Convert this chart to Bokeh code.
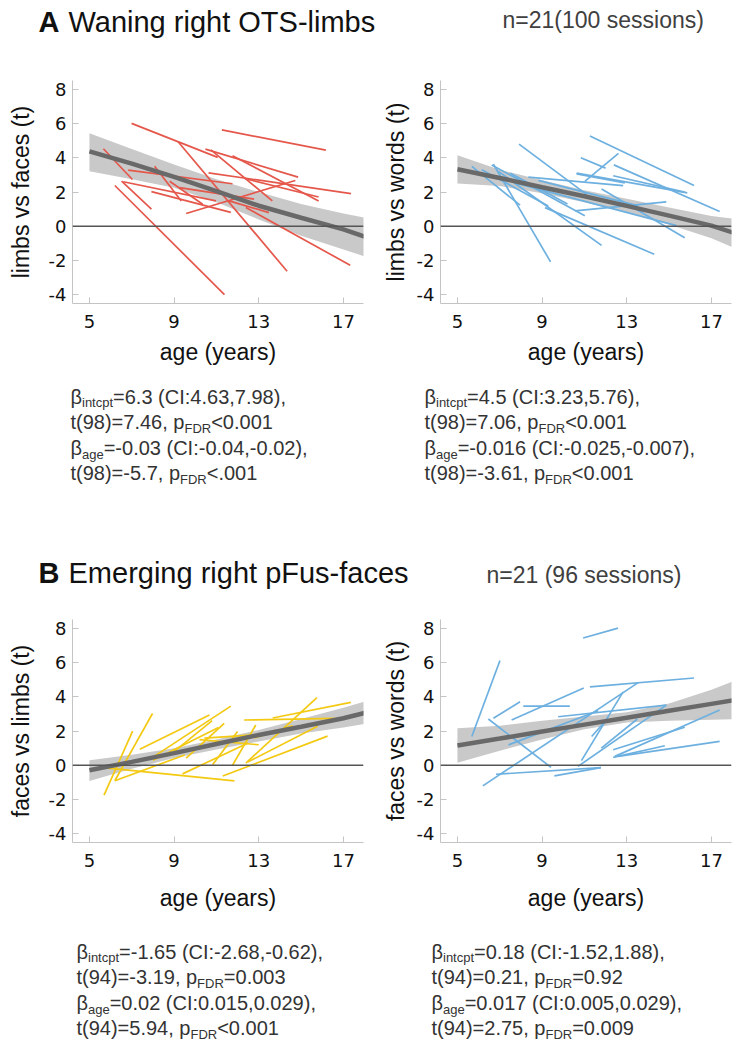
from bokeh.plotting import figure
from bokeh.models import Span, FixedTicker, Range1d
from bokeh.layouts import column, row
from bokeh.embed import file_html
from bokeh.resources import INLINE
from bokeh.core.properties import value

# ---------------- data ----------------
AGE_TICKS = [5, 9, 13, 17]
T_TICKS = [-4, -2, 0, 2, 4, 6, 8]

# Panel A left: limbs vs faces (right OTS-limbs)
a1_x0 = [6.99, 9.18, 11.26, 5.66, 6.20, 6.52, 6.83, 8.08, 10.48, 10.74, 11.76, 10.63, 12.34, 9.57, 7.93, 12.39, 6.60, 9.26, 11.60, 8.79]
a1_y0 = [6.00, 4.94, 5.62, 4.52, 2.38, 2.63, 3.27, 3.50, 4.50, 4.46, 4.12, 3.12, 2.79, 0.75, 2.02, 1.10, 2.60, 2.25, 1.48, 2.63]
a1_x1 = [11.06, 14.34, 16.17, 7.03, 11.38, 7.93, 11.76, 9.34, 14.86, 13.64, 15.83, 17.36, 15.83, 14.73, 11.68, 17.32, 10.98, 12.78, 13.48, 10.35]
a1_y1 = [4.02, -2.62, 4.44, 2.73, -3.98, 1.00, 2.48, 1.48, 2.87, 1.48, 1.48, 1.90, 1.71, 2.67, 0.81, -2.27, 1.48, 1.58, 0.80, 1.29]
a1_fit_age = [5, 7, 9, 11, 13, 15, 17, 18]
a1_fit = [4.37, 3.65, 2.88, 2.05, 1.20, 0.50, -0.18, -0.60]
a1_lo = [3.21, 2.75, 2.25, 1.40, 0.40, -0.55, -1.35, -1.75]
a1_hi = [5.42, 4.50, 3.60, 2.75, 2.00, 1.30, 0.75, 0.50]

# Panel A right: limbs vs words
a2_x0 = [7.91, 11.26, 10.83, 11.02, 12.39, 10.63, 12.36, 6.70, 5.68, 6.62, 8.35, 10.63, 11.81, 6.93, 9.14, 7.72, 10.55, 6.15, 8.82, 7.50]
a2_y0 = [4.79, 5.27, 4.00, 2.62, 3.58, 3.10, 2.95, 3.62, 3.49, 3.58, 2.87, 3.06, 2.18, 3.20, 1.09, 2.53, 0.90, 3.30, 2.68, 3.10]
a2_x1 = [11.10, 16.18, 12.00, 12.61, 17.39, 15.86, 15.74, 9.40, 7.96, 11.02, 12.83, 12.91, 15.74, 11.81, 14.30, 15.35, 14.87, 9.29, 13.54, 10.20]
a2_y1 = [1.86, 2.38, 3.39, 4.25, 0.86, 1.95, 1.99, -2.07, 1.23, 0.61, 2.37, 2.53, -0.67, -1.11, -1.63, 0.04, 1.42, 1.19, 1.19, 1.30]
a2_fit_age = [5, 7, 9, 11, 13, 15, 17, 18]
a2_fit = [3.33, 2.82, 2.28, 1.75, 1.19, 0.62, 0.04, -0.36]
a2_lo = [2.49, 2.35, 1.92, 1.40, 0.80, 0.10, -0.70, -1.22]
a2_hi = [4.14, 3.30, 2.68, 2.10, 1.61, 1.10, 0.60, 0.45]

# Panel B left: faces vs limbs (right pFus-faces)
b1_x0 = [5.69, 6.20, 7.38, 7.93, 9.57, 10.43, 10.82, 11.76, 12.31, 12.39, 11.30, 13.66, 5.66, 6.20, 8.00, 9.00, 9.40, 10.20, 12.80, 12.48]
b1_y0 = [-1.74, -0.90, 0.94, 0.42, 0.42, 1.58, 0.04, 0.00, 2.64, 0.13, -0.62, 2.76, -0.14, -0.90, 0.30, 0.80, -0.50, 1.50, 1.60, 0.19]
b1_x1 = [7.04, 7.98, 10.67, 11.68, 11.37, 12.78, 12.00, 12.86, 16.61, 15.75, 16.25, 17.35, 11.85, 9.50, 11.10, 10.80, 12.50, 13.00, 14.60, 15.78]
b1_y1 = [1.99, 3.02, 2.93, 3.45, 2.45, 1.77, 1.97, 2.35, 2.74, 3.95, 1.70, 3.67, -0.91, 0.60, 2.20, 2.60, 1.30, 1.20, 2.30, 2.28]
b1_fit_age = [5, 7, 9, 11, 13, 15, 17, 18]
b1_fit = [-0.29, 0.20, 0.71, 1.24, 1.77, 2.25, 2.74, 3.05]
b1_lo = [-0.91, -0.20, 0.42, 0.92, 1.39, 1.85, 2.20, 2.41]
b1_hi = [0.29, 0.62, 1.00, 1.50, 2.06, 2.70, 3.35, 3.72]

# Panel B right: faces vs words
b2_x0 = [5.68, 10.94, 6.70, 6.46, 7.56, 8.11, 11.26, 6.20, 10.86, 7.41, 11.80, 10.70, 12.36, 12.44, 12.36, 12.59, 6.82, 9.58, 9.76, 11.34]
b2_y0 = [1.68, 7.42, 2.74, 2.70, 2.64, 3.45, 4.57, -1.20, 0.27, 1.19, 1.00, -0.06, 0.91, 0.52, 0.46, 0.52, -0.52, -0.62, 2.83, 1.68]
b2_x1 = [7.01, 12.59, 7.96, 9.42, 10.97, 10.31, 16.18, 13.54, 12.83, 11.65, 13.50, 14.87, 15.74, 17.39, 14.80, 17.39, 11.78, 11.78, 14.87, 12.04]
b2_y1 = [6.11, 8.00, 3.70, -0.12, 4.51, 3.45, 5.09, 4.82, 4.28, 3.18, 2.70, 3.51, 2.22, 3.22, 1.14, 1.39, -0.14, -0.14, 3.51, 2.64]
b2_fit_age = [5, 7, 9, 11, 13, 15, 17, 18]
b2_fit = [1.16, 1.56, 1.97, 2.37, 2.77, 3.18, 3.58, 3.78]
b2_lo = [0.15, 0.85, 1.50, 2.10, 2.50, 2.60, 2.66, 2.68]
b2_hi = [2.16, 2.30, 2.60, 2.85, 3.10, 3.60, 4.40, 4.88]

# Statistics text: (text, is_subscript)
a1_stats = [[("β", 0), ("intcpt", 1), ("=6.3 (CI:4.63,7.98),", 0)],
            [("t(98)=7.46, p", 0), ("FDR", 1), ("<0.001", 0)],
            [("β", 0), ("age", 1), ("=-0.03 (CI:-0.04,-0.02),", 0)],
            [("t(98)=-5.7, p", 0), ("FDR", 1), ("<.001", 0)]]
a2_stats = [[("β", 0), ("intcpt", 1), ("=4.5 (CI:3.23,5.76),", 0)],
            [("t(98)=7.06, p", 0), ("FDR", 1), ("<0.001", 0)],
            [("β", 0), ("age", 1), ("=-0.016 (CI:-0.025,-0.007),", 0)],
            [("t(98)=-3.61, p", 0), ("FDR", 1), ("<0.001", 0)]]
b1_stats = [[("β", 0), ("intcpt", 1), ("=-1.65 (CI:-2.68,-0.62),", 0)],
            [("t(94)=-3.19, p", 0), ("FDR", 1), ("=0.003", 0)],
            [("β", 0), ("age", 1), ("=0.02 (CI:0.015,0.029),", 0)],
            [("t(94)=5.94, p", 0), ("FDR", 1), ("<0.001", 0)]]
b2_stats = [[("β", 0), ("intcpt", 1), ("=0.18 (CI:-1.52,1.88),", 0)],
            [("t(94)=0.21, p", 0), ("FDR", 1), ("=0.92", 0)],
            [("β", 0), ("age", 1), ("=0.017 (CI:0.005,0.029),", 0)],
            [("t(94)=2.75, p", 0), ("FDR", 1), ("=0.009", 0)]]

TITLE_A = ("A", "Waning right OTS-limbs")
NOTE_A = "n=21(100 sessions)"
TITLE_B = ("B", "Emerging right pFus-faces")
NOTE_B = "n=21 (96 sessions)"

# ---------------- styling ----------------
RED = "#e5574b"
BLUE = "#6db0e0"
YELLOW = "#f3c912"
FONT = "Liberation Sans"
W = 748
STAT_SIZE = 20
SUB_SIZE = 13
TITLE_SIZE = 29
NOTE_SIZE = 23

# Arial / Liberation Sans advance widths (per 1000 em)
WID = {" ": 278, "(": 333, ")": 333, ",": 278, "-": 333, ".": 278, ":": 278, "<": 584, "=": 584,
       "C": 722, "D": 722, "F": 611, "I": 278, "R": 722, "a": 556, "c": 500, "e": 556, "g": 556,
       "i": 222, "n": 556, "p": 556, "t": 278, "β": 575}


def text_width(s, size):
    return sum(WID.get(ch, 556) for ch in s) * size / 1000.0


def mid(baseline, size):
    # vertical centre of the text box for a given baseline
    return baseline - 0.35 * size


def text_fig(h):
    p = figure(width=W, height=h, x_range=Range1d(0, W), y_range=Range1d(h, 0),
               x_axis_type=None, y_axis_type=None, output_backend="svg",
               toolbar_location=None, min_border=0)
    p.grid.visible = False
    p.outline_line_color = None
    return p


def put_text(p, xs, ys, texts, size, color, style="normal"):
    p.text(x=xs, y=ys, text=texts, text_font=value(FONT), text_font_size=value(f"{size}px"),
           text_color=color, text_font_style=value(style), text_baseline=value("middle"),
           text_align=value("left"))


def add_stats(p, x, base, lines, step=25.6):
    nx, ny, nt, sx, sy, st = [], [], [], [], [], []
    for k, parts in enumerate(lines):
        cx = x
        b = base + k * step
        for txt, sub in parts:
            if sub:
                sx.append(cx); sy.append(mid(b + 4, SUB_SIZE)); st.append(txt)
                cx += text_width(txt, SUB_SIZE)
            else:
                nx.append(cx); ny.append(mid(b, STAT_SIZE)); nt.append(txt)
                cx += text_width(txt, STAT_SIZE)
    put_text(p, nx, ny, nt, STAT_SIZE, "#333333")
    put_text(p, sx, sy, st, SUB_SIZE, "#333333")


def add_title(p, parts, x, base):
    put_text(p, [x], [mid(base, TITLE_SIZE)], [parts[0]], TITLE_SIZE, "#111111", "bold")
    put_text(p, [x + 30], [mid(base, TITLE_SIZE)], [parts[1]], TITLE_SIZE, "#111111")


def add_note(p, txt, x, base):
    put_text(p, [x], [mid(base, NOTE_SIZE)], [txt], NOTE_SIZE, "#404040")


def make_panel(x0, y0, x1, y1, color, fx, fy, lo, hi, ylabel, height, top, left, ylab_off, xlab_off):
    p = figure(width=374, height=height, x_range=Range1d(4.2, 17.95), y_range=Range1d(-4.5, 8.5),
               output_backend="svg", toolbar_location=None,
               min_border_left=left, min_border_right=374 - left - 291,
               min_border_top=top, min_border_bottom=height - top - 223)
    p.grid.visible = False
    p.outline_line_color = None
    p.varea(x=fx, y1=lo, y2=hi, fill_color="#c9c9c9", fill_alpha=1.0)
    p.add_layout(Span(location=0, dimension="width", line_color="#555555", line_width=1.4))
    p.segment(x0=x0, y0=y0, x1=x1, y1=y1, line_color=color, line_width=1.7)
    p.line(fx, fy, line_color="#696969", line_width=4.5)
    p.xaxis.ticker = FixedTicker(ticks=AGE_TICKS)
    p.yaxis.ticker = FixedTicker(ticks=T_TICKS)
    p.yaxis.major_label_overrides = {t: str(t) for t in T_TICKS}
    p.xaxis.axis_label = "age (years)"
    p.yaxis.axis_label = ylabel
    for ax in (p.xaxis[0], p.yaxis[0]):
        ax.axis_line_color = "#c4c4c4"
        ax.major_tick_line_color = "#c4c4c4"
        ax.major_tick_in = 6
        ax.major_tick_out = 0
        ax.minor_tick_line_color = None
        ax.major_label_text_font = "DejaVu Sans"
        ax.major_label_text_font_size = "18px"
        ax.major_label_text_color = "#111111"
        ax.axis_label_text_font = FONT
        ax.axis_label_text_font_size = "23px"
        ax.axis_label_text_font_style = "normal"
        ax.axis_label_text_color = "#111111"
    p.xaxis.major_label_standoff = 11
    p.xaxis.axis_label_standoff = xlab_off
    p.yaxis.major_label_standoff = 6
    p.yaxis.axis_label_standoff = ylab_off
    return p


# Row 1 (page y 0-70): panel A heading
t1 = text_fig(70)
add_title(t1, TITLE_A, 38, 32)
add_note(t1, NOTE_A, 502, 28)

# Row 2 (page y 70-375): panel A plots
pA1 = make_panel(a1_x0, a1_y0, a1_x1, a1_y1, RED, a1_fit_age, a1_fit, a1_lo, a1_hi,
                 "limbs vs faces (t)", 305, 10, 72, 12, 8)
pA2 = make_panel(a2_x0, a2_y0, a2_x1, a2_y1, BLUE, a2_fit_age, a2_fit, a2_lo, a2_hi,
                 "limbs vs words (t)", 305, 10, 66, 5, 8)

# Row 3 (page y 375-600): panel A stats + panel B heading
t3 = text_fig(225)
add_stats(t3, 70, 28, a1_stats)
add_stats(t3, 424, 28, a2_stats)
add_title(t3, TITLE_B, 38, 208)
add_note(t3, NOTE_B, 486, 208)

# Row 4 (page y 600-918): panel B plots
pB1 = make_panel(b1_x0, b1_y0, b1_x1, b1_y1, YELLOW, b1_fit_age, b1_fit, b1_lo, b1_hi,
                 "faces vs limbs (t)", 318, 19, 72, 12, 15)
pB2 = make_panel(b2_x0, b2_y0, b2_x1, b2_y1, BLUE, b2_fit_age, b2_fit, b2_lo, b2_hi,
                 "faces vs words (t)", 318, 19, 66, 5, 15)

# Row 5 (page y 918-1048): panel B stats
t5 = text_fig(130)
add_stats(t5, 76, 40, b1_stats)
add_stats(t5, 431, 40, b2_stats)

layout = column(t1, row(pA1, pA2), t3, row(pB1, pB2), t5)
open("out.html", "w").write(file_html(layout, INLINE))
